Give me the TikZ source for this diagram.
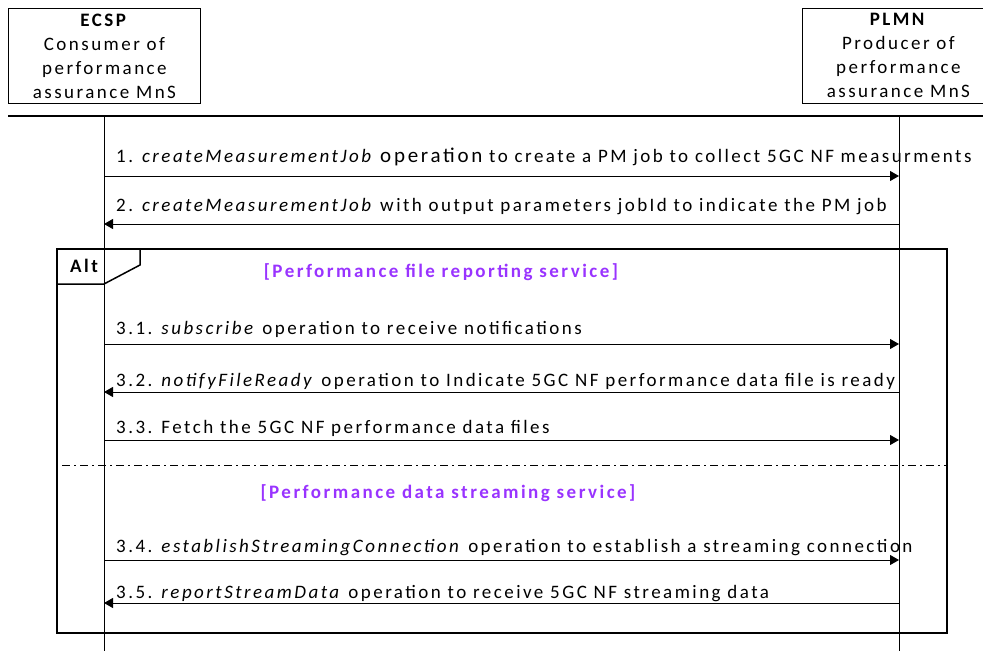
\documentclass[tikz,border=0pt]{standalone}
\usepackage{fontspec}
\setmainfont{Carlito}[LetterSpace=13]
\usepackage{tikz}
\usetikzlibrary{arrows.meta}

\definecolor{guardpurple}{RGB}{153,51,255}

\begin{document}
\begin{tikzpicture}[x=1pt, y=-1pt,
  actor/.style={draw, line width=0.8pt, minimum width=192pt, minimum height=95pt, anchor=north west, align=center, inner sep=0pt, font=\fontsize{19}{24}\selectfont},
  msg/.style={-{Triangle[length=9pt,width=10pt]}, line width=1pt},
  msg label/.style={anchor=base west, inner sep=0pt, font=\fontsize{19}{20}\selectfont},
  guard/.style={color=guardpurple, font=\bfseries\fontsize{19}{20}\selectfont}]

\useasboundingbox (0,0) rectangle (983,651);

% participants
\node[actor] (ecsp) at (8,8) {\textbf{ECSP}\\Consumer of\\performance\\assurance MnS};
\node[actor] (plmn) at (802,8) {\textbf{PLMN}\\Producer of\\performance\\assurance MnS};
\draw[line width=1.2pt] (8,116) -- (983,116);

% lifelines
\coordinate (ecsp top) at (104,116);
\coordinate (ecsp end) at (104,651);
\coordinate (plmn top) at (899,116);
\coordinate (plmn end) at (899,651);
\draw[line width=0.8pt] (ecsp top) -- (ecsp end);
\draw[line width=0.8pt] (plmn top) -- (plmn end);

\foreach \n/\y in {1/176, 2/224, 31/344, 32/392, 33/440, 34/560, 35/603} {
  \coordinate (e\n) at (104,\y);
  \coordinate (p\n) at (899,\y);
}

% alt frame
\node[draw, line width=1.5pt, minimum width=890pt, minimum height=384pt, anchor=north west, inner sep=0pt] (alt) at (56,248) {};
\draw[line width=1.5pt] (alt.north west) ++(84,0) -- ++(0,17) -- ++(-36,19) -- ++(-48,0);
\node[font=\bfseries\fontsize{19}{20}\selectfont] (alt tag) at (84,266) {Alt};
\coordinate (split w) at (62,465);
\coordinate (split e) at (946,465);
\draw[dash pattern=on 8pt off 4pt on 2pt off 4pt, line width=0.8pt] (split w) -- (split e);

\node[guard] (guard file) at (441,272) {[Performance file reporting service]};
\node[guard] (guard stream) at (448,493) {[Performance data streaming service]};

% messages
\node[msg label] (m1) at (116,162) {1. \textit{createMeasurementJob} {\fontsize{21}{22}\selectfont operation} to create a PM job to collect 5GC NF measurments};
\draw[msg] (e1) -- (p1);
\node[msg label] (m2) at (116,211) {2. \textit{createMeasurementJob} with output parameters jobId to indicate the PM job};
\draw[msg] (p2) -- (e2);

\node[msg label] (m31) at (116,334) {3.1. \textit{subscribe} operation to receive notifications};
\draw[msg] (e31) -- (p31);
\node[msg label] (m32) at (116,386) {3.2. \textit{notifyFileReady} operation to Indicate 5GC NF performance data file is ready};
\draw[msg] (p32) -- (e32);
\node[msg label] (m33) at (116,433) {3.3. Fetch the 5GC NF performance data files};
\draw[msg] (e33) -- (p33);

\node[msg label] (m34) at (116,552) {3.4. \textit{establishStreamingConnection} operation to establish a streaming connection};
\draw[msg] (e34) -- (p34);
\node[msg label] (m35) at (116,598) {3.5. \textit{reportStreamData} operation to receive 5GC NF streaming data};
\draw[msg] (p35) -- (e35);
\end{tikzpicture}
\end{document}
